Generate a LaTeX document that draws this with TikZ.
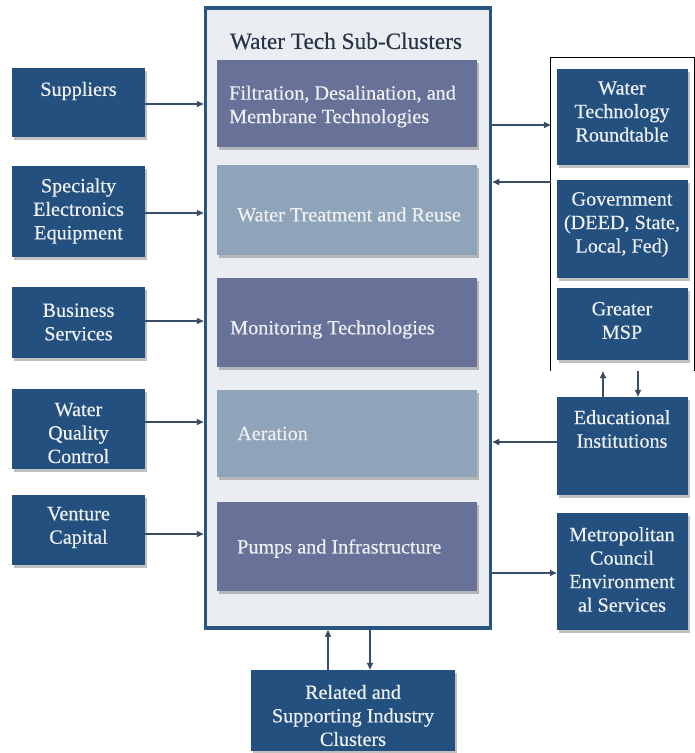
\documentclass[tikz,border=0pt]{standalone}
\usepackage{fontspec}
\setmainfont{Liberation Serif}[FakeBold=0.4]
\usetikzlibrary{shadows,arrows.meta}
\definecolor{dkblue}{RGB}{35,80,126}
\definecolor{subdark}{RGB}{104,113,152}
\definecolor{sublight}{RGB}{143,163,185}
\definecolor{mainfill}{RGB}{234,237,242}
\definecolor{mainborder}{RGB}{40,85,130}
\definecolor{arrowcol}{RGB}{55,78,102}
\definecolor{titlecol}{RGB}{40,52,72}
\definecolor{boxtext}{RGB}{238,240,244}
\begin{document}
\begin{tikzpicture}[x=1pt,y=-1pt,
  shad/.style={drop shadow={shadow xshift=1.5pt,shadow yshift=-2.5pt,fill=black!55,opacity=0.45}},
  darkbox/.style={rectangle,fill=dkblue,draw=none,inner sep=0pt,shad},
  subbox/.style={rectangle,draw=none,inner sep=0pt,minimum width=260pt,shad},
  txt/.style={text=boxtext,align=center,inner sep=0pt,font=\fontsize{20.2}{23.5}\selectfont},
  subtxt/.style={text=boxtext,align=left,anchor=west,inner sep=0pt,font=\fontsize{20.2}{23.5}\selectfont},
  arr/.style={draw=arrowcol,line width=1.4pt,-{Triangle[length=7pt,width=6pt]}},
  frameline/.style={draw=black,line width=1.3pt}
]
\useasboundingbox (0,0) rectangle (695,753);
% main container
\node[rectangle,fill=mainfill,draw=mainborder,line width=3.5pt,minimum width=285pt,minimum height=620pt,inner sep=0pt] (main) at (348,318) {};
\node[text=titlecol,inner sep=0pt,font=\fontsize{23.3}{27}\selectfont] (title) at (346,41) {Water Tech Sub-Clusters};
% sub-cluster boxes
\node[subbox,fill=subdark,minimum height=87pt] (s1) at (347,103.5) {};
\node[subbox,fill=sublight,minimum height=90pt] (s2) at (347,210) {};
\node[subbox,fill=subdark,minimum height=89pt] (s3) at (347,322.5) {};
\node[subbox,fill=sublight,minimum height=87pt] (s4) at (347,433.5) {};
\node[subbox,fill=subdark,minimum height=89pt] (s5) at (347,546.5) {};
\node[subtxt] (s1t) at (229,106.5) {Filtration, Desalination, and\\Membrane Technologies};
\node[subtxt] (s2t) at (237,214.5) {Water Treatment and Reuse};
\node[subtxt] (s3t) at (230,329.5) {Monitoring Technologies};
\node[subtxt] (s4t) at (237,433.5) {Aeration};
\node[subtxt] (s5t) at (237,548.5) {Pumps and Infrastructure};
% left boxes
\node[darkbox,minimum width=133pt,minimum height=69pt] (sup) at (78.5,102.5) {};
\node[darkbox,minimum width=133pt,minimum height=91pt] (spe) at (78.5,211.5) {};
\node[darkbox,minimum width=133pt,minimum height=71pt] (bus) at (78.5,322.5) {};
\node[darkbox,minimum width=133pt,minimum height=80pt] (wqc) at (78.5,429) {};
\node[darkbox,minimum width=133pt,minimum height=70pt] (ven) at (78.5,530) {};
\node[txt] (supt) at (78.5,91) {Suppliers};
\node[txt] (spet) at (78.5,211) {Specialty\\Electronics\\Equipment};
\node[txt] (bust) at (78.5,322) {Business\\Services};
\node[txt] (wqct) at (78.5,433) {Water\\Quality\\Control};
\node[txt] (vent) at (78.5,527.5) {Venture\\Capital};
% right frame
\node[rectangle,draw=none,minimum width=143pt,minimum height=313pt,inner sep=0pt] (frm) at (622.5,214.5) {};
\draw[frameline] (frm.south west) -- (frm.north west) -- (frm.north east) -- (frm.south east);
% right boxes
\node[darkbox,minimum width=131pt,minimum height=96pt] (wtr) at (622.5,117) {};
\node[darkbox,minimum width=131pt,minimum height=98pt] (gov) at (622.5,229) {};
\node[darkbox,minimum width=131pt,minimum height=72pt] (msp) at (622.5,324) {};
\node[darkbox,minimum width=131pt,minimum height=98pt] (edu) at (622.5,446) {};
\node[darkbox,minimum width=131pt,minimum height=117pt] (met) at (622.5,571.5) {};
\node[txt] (wtrt) at (622,111.5) {Water\\Technology\\Roundtable};
\node[txt] (govt) at (622,224.5) {Government\\(DEED, State,\\Local, Fed)};
\node[txt] (mspt) at (622,320.5) {Greater\\MSP};
\node[txt] (edut) at (622,429) {Educational\\Institutions};
\node[txt] (mett) at (622,569.5) {Metropolitan\\Council\\Environment\\al Services};
% bottom box
\node[darkbox,minimum width=204pt,minimum height=81pt] (rel) at (353,710.5) {};
\node[txt] (relt) at (353,715.5) {Related and\\Supporting Industry\\Clusters};
% arrows left
\draw[arr] (sup.east |- 0,104) -- (main.west |- 0,104);
\draw[arr] (spe.east |- 0,213) -- (main.west |- 0,213);
\draw[arr] (bus.east |- 0,321) -- (main.west |- 0,321);
\draw[arr] (wqc.east |- 0,422) -- (main.west |- 0,422);
\draw[arr] (ven.east |- 0,534) -- (main.west |- 0,534);
% arrows right
\draw[arr] (main.east |- 0,125) -- (frm.west |- 0,125);
\draw[arr] (frm.west |- 0,182) -- (main.east |- 0,182);
\draw[arr] (edu.north -| 603,0) -- (frm.south -| 603,0);
\draw[arr] (frm.south -| 638,0) -- (edu.north -| 638,0);
\draw[arr] (edu.west |- 0,442) -- (main.east |- 0,442);
\draw[arr] (main.east |- 0,573) -- (met.west |- 0,573);
% arrows bottom
\draw[arr] (rel.north -| 328,0) -- (main.south -| 328,0);
\draw[arr] (main.south -| 370,0) -- (rel.north -| 370,0);
\end{tikzpicture}
\end{document}
